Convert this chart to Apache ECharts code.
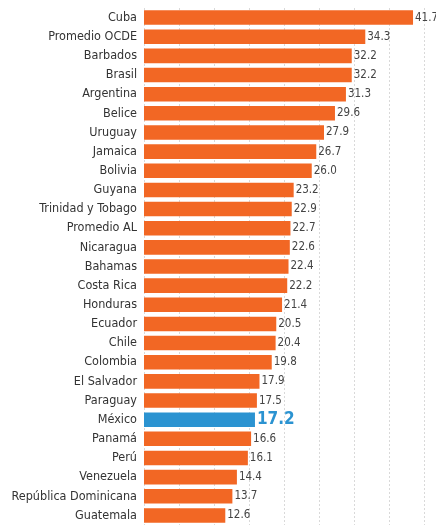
<!DOCTYPE html>
<html>
<head>
<meta charset="utf-8">
<script src="https://cdn.jsdelivr.net/npm/echarts@6/dist/echarts.min.js"></script>
<style>
	html, body { margin: 0; padding: 0; background: #fff; }
	#chart { width: 436px; height: 525px; }
</style>
</head>
<body>
<div id="chart"></div>
<script>
var countries = [ 'Cuba', 'Promedio OCDE', 'Barbados', 'Brasil', 'Argentina', 'Belice',
	'Uruguay', 'Jamaica', 'Bolivia', 'Guyana', 'Trinidad y Tobago', 'Promedio AL',
	'Nicaragua', 'Bahamas', 'Costa Rica', 'Honduras', 'Ecuador', 'Chile', 'Colombia',
	'El Salvador', 'Paraguay', 'México', 'Panamá', 'Perú', 'Venezuela',
	'República Dominicana', 'Guatemala' ];
var values = [ 41.7, 34.3, 32.2, 32.2, 31.3, 29.6, 27.9, 26.7, 26.0, 23.2, 22.9, 22.7,
	22.6, 22.4, 22.2, 21.4, 20.5, 20.4, 19.8, 17.9, 17.5, 17.2, 16.6, 16.1, 14.4, 13.7, 12.6 ];
var highlight = 'México';

var orange = '#f26724';
var blue = '#2b93d1';
var font = 'DejaVu Sans Condensed, sans-serif';

var data = values.map(function(v, i) {
	var hi = countries[i] === highlight;
	return {
		value : v,
		itemStyle : {
			color : hi ? blue : orange
		},
		label : hi ? {
			color : blue,
			fontWeight : 'bold',
			fontSize : 17,
			distance : 2
		} : {}
	};
});

var option = {
	animation : false,
	grid : {
		left : 144,
		right : 12,
		top : 8,
		bottom : 0
	},
	xAxis : {
		type : 'value',
		min : 0,
		max : 43.4,
		interval : 5.425,
		axisLabel : { show : false },
		axisLine : { show : false },
		axisTick : { show : false },
		splitLine : {
			show : true,
			lineStyle : {
				color : '#d9d9d9',
				type : [ 2, 2 ],
				width : 1
			}
		}
	},
	yAxis : {
		type : 'category',
		inverse : true,
		data : countries,
		axisLine : { show : false },
		axisTick : { show : false },
		axisLabel : {
			color : '#333',
			fontSize : 12.5,
			fontFamily : font,
			margin : 7
		}
	},
	series : [ {
		type : 'bar',
		barCategoryGap : '24%',
		data : data,
		label : {
			show : true,
			position : 'right',
			distance : 2,
			color : '#444',
			fontSize : 11.5,
			fontFamily : font,
			formatter : function(p) {
				return p.value.toFixed(1);
			}
		}
	} ]
};

var chart = echarts.init(document.getElementById('chart'));
chart.setOption(option);
</script>
</body>
</html>
